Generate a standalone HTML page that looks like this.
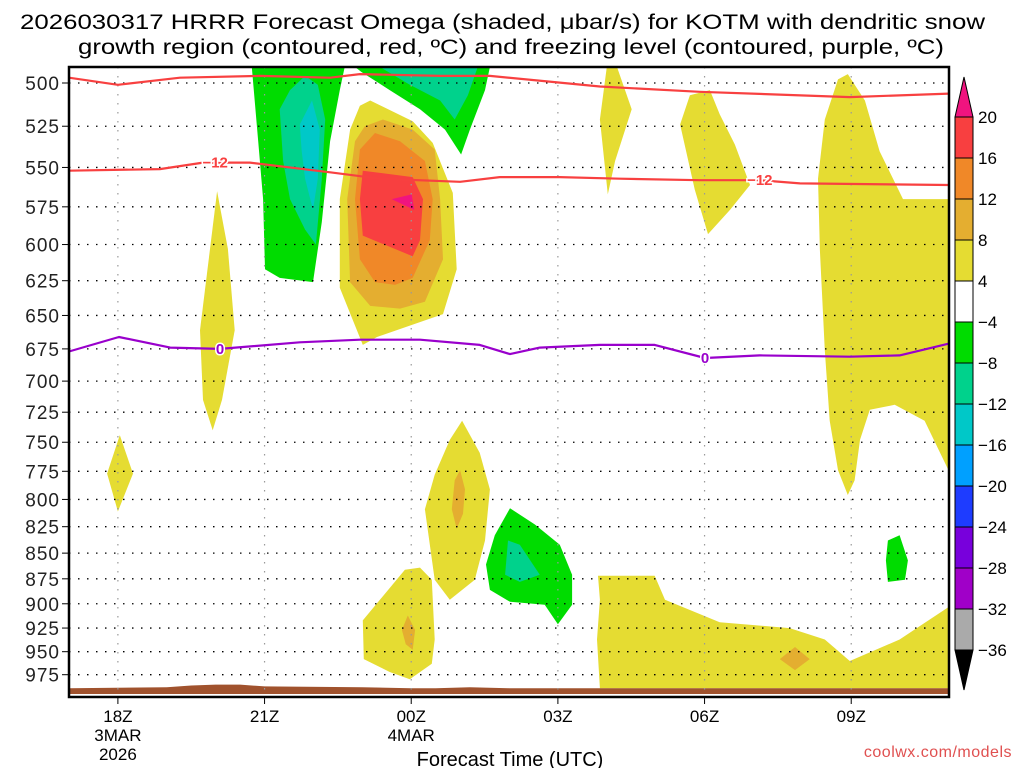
<!DOCTYPE html>
<html><head><meta charset="utf-8"><style>
html,body{margin:0;padding:0;background:#fff;}
svg{display:block;font-family:"Liberation Sans",sans-serif;}
</style></head><body>
<svg id="chart" width="1024" height="768" viewBox="0 0 1024 768" xmlns="http://www.w3.org/2000/svg">
<text x="20" y="29" font-size="21" textLength="965" lengthAdjust="spacingAndGlyphs" fill="#000">2026030317 HRRR Forecast Omega (shaded, μbar/s) for KOTM with dendritic snow</text>
<text x="78" y="54" font-size="21" textLength="866" lengthAdjust="spacingAndGlyphs" fill="#000">growth region (contoured, red, ºC) and freezing level (contoured, purple, ºC)</text>
<g id="shading"></g>
<g id="ground"></g>
<g id="grid"></g>
<g id="lines"></g>
<rect x="69" y="67" width="880" height="630" fill="none" stroke="#000" stroke-width="2.5"/>
<g id="yaxis"></g>
<g id="xaxis"></g>
<text x="510" y="766" font-size="20" text-anchor="middle">Forecast Time (UTC)</text>
<text x="1012" y="757" font-size="16" text-anchor="end" fill="#e05050" letter-spacing="0.5">coolwx.com/models</text>
<g id="cbar"></g>
</svg>
<script>
const NS="http://www.w3.org/2000/svg";
const pLevels=[500,525,550,575,600,625,650,675,700,725,750,775,800,825,850,875,900,925,950,975];
const xTickHours=[18,21,24,27,30,33];
const xTickLabels=["18Z","21Z","00Z","03Z","06Z","09Z"];
const xTickDates=[["3MAR","2026"],[],["4MAR"],[],[],[]];
const cbarLevels=["20","16","12","8","4","−4","−8","−12","−16","−20","−24","−28","−32","−36"];
const cbarColors=["#f83f40","#f08828","#e4ae30","#e5dc32","#ffffff","#00dc00","#00d28c","#00c8c8","#00a0ff","#1e3cff","#7800dc","#a000c8","#aaaaaa"];
const C={y:"#e5dc32",g:"#e4ae30",o:"#f08828",r:"#f83f40",m:"#f0147f",gr:"#00dc00",t:"#00d28c",c:"#00c8c8"};
const regYellowBR=[[27.82,872],[28.98,872],[29.19,896],[30.31,919],[31.74,925],[32.46,937],[32.97,960],[33.99,937],[35,903],[35,990],[27.86,990],[27.8,937],[27.86,896]];
const regGoldBR=[[31.85,945],[32.15,958],[31.85,970],[31.54,958]];
const regYellow00=[[23.01,917],[23.87,866],[24.18,864],[24.42,876],[24.48,937],[24.42,963],[23.97,980],[23.56,972],[23.03,958]];
const regGold00=[[23.93,912],[24.08,927],[24.03,948],[23.89,942],[23.81,927]];
const regYellow01=[[25.04,732],[25.4,759],[25.61,791],[25.51,838],[25.3,876],[24.79,896],[24.48,876],[24.28,809],[24.48,778],[24.79,748]];
const regGold01=[[25,774],[25.1,791],[25.06,813],[24.93,827],[24.83,809],[24.89,783]];
const regGreen02=[[26.02,808],[26.53,823],[27.04,842],[27.29,871],[27.29,901],[27,921],[26.73,901],[26.02,898],[25.61,886],[25.53,861],[25.71,833]];
const regTeal02=[[25.98,838],[26.22,842],[26.63,871],[26.22,878],[25.92,871]];
const regYellowDiamond=[[18.04,744],[18.31,777],[18.0,811],[17.78,777]];
const regYellowSpike=[[20.03,565],[20.25,603],[20.39,661],[20.13,715],[19.94,740],[19.74,715],[19.68,661]];
const regYellow04=[[28.0,491],[28.21,491],[28.51,515],[28.17,546],[28.02,567],[27.86,521]];
const regYellow06=[[29.7,507],[30.11,504],[30.31,518],[30.62,536],[30.93,561],[30.52,577],[30.07,593],[29.8,564],[29.5,524]];
const regYellowRight=[[32.73,498],[32.93,495],[33.28,510],[33.58,540],[34.06,570],[35,570],[35,775],[34.5,732],[33.89,719],[33.38,723],[33.18,748],[33.07,783],[32.93,796],[32.73,774],[32.56,732],[32.46,676],[32.36,604],[32.32,557],[32.46,521]];
const regGreenRight=[[33.75,838],[33.99,833],[34.16,857],[34.1,876],[33.75,878],[33.71,857]];
const regGreen1=[[20.74,491],[20.87,534],[20.97,570],[21.01,617],[21.31,623],[21.99,626],[22.17,585],[22.34,534],[22.54,504],[22.64,491]];
const regTeal1=[[21.31,515],[21.52,504],[21.83,496],[22.09,501],[22.24,521],[22.17,557],[22.05,600],[21.83,590],[21.52,570],[21.38,546]];
const regCyan1=[[21.72,524],[21.97,510],[22.13,527],[22.09,557],[21.99,577],[21.83,557],[21.76,540]];
const regGreen2=[[22.85,491],[22.99,494],[23.56,504],[24.18,515],[24.69,527],[25.02,542],[25.2,527],[25.51,504],[25.61,491]];
const regTeal2=[[23.36,491],[23.97,501],[24.59,510],[24.89,521],[25.16,507],[25.36,491]];
const regWarmY=[[23.16,510],[24.03,522],[24.44,535],[24.85,566],[24.93,617],[24.65,649],[23.3,666],[23.01,672],[22.54,630],[22.54,570],[22.75,527],[22.95,513]];
const regWarmG=[[22.85,534],[23.05,525],[23.42,521],[24.03,527],[24.48,539],[24.59,570],[24.65,610],[24.28,640],[23.77,645],[23.16,643],[22.75,626],[22.69,570]];
const regWarmO=[[22.95,539],[23.26,529],[23.77,534],[24.28,546],[24.44,570],[24.38,597],[24.03,623],[23.67,628],[23.26,626],[22.95,610],[22.85,570]];
const regWarmR=[[23.01,552],[24.03,556],[24.24,570],[24.18,597],[24.03,608],[23.01,594],[22.95,570]];
const regWarmM=[[23.6,570],[24.01,567],[24.06,577]];
const lineRedTop=[[17,497],[18,501],[19.27,497],[20.91,496],[22.34,497],[22.95,495],[24.59,496],[25.61,496],[27.86,502],[29.9,505],[32.97,508],[35,506]];
const lineRedM12=[[17,552],[18.86,551],[19.74,547],[20.7,547],[22.34,553],[23.36,557],[25,559],[25.81,556],[27.04,556],[28.27,557],[29.9,558],[31.13,558],[31.95,560],[35,561]];
const linePurple0=[[17,677],[18.02,666],[19.07,674],[20.09,675],[21.72,670],[22.95,668],[24.18,668],[25.4,672],[26.02,679],[26.63,674],[27.86,672],[28.98,672],[30.01,682],[31.13,680],[32.97,681],[33.99,680],[35,671]];
const groundHours=[17,19,19.5,20,20.5,21,23,24,24.5,25.2,26,27,35];
const groundP=[990,989,987,986,986,988,989,990,990,989,990,990,990];

const X0=69,X1=949,H0=17,H1=35,Y500=83,PPL=886;
function xS(h){return X0+(h-H0)*(X1-X0)/(H1-H0);}
function yS(p){return Math.min(697,Math.max(67,Y500+PPL*Math.log(p/500)));}
function mk(tag,attrs,parent){const e=document.createElementNS(NS,tag);for(const k in attrs)e.setAttribute(k,attrs[k]);parent.appendChild(e);return e;}
function pts(a){return a.map(d=>xS(d[0]).toFixed(1)+","+yS(d[1]).toFixed(1)).join(" ");}

const shading=document.getElementById("shading");
const regions=[["region-yellow-bottom-right",regYellowBR,C.y],["region-gold-bottom-right",regGoldBR,C.g],
["region-yellow-00z-low",regYellow00,C.y],["region-gold-00z-low",regGold00,C.g],
["region-yellow-01z-mid",regYellow01,C.y],["region-gold-01z-mid",regGold01,C.g],
["region-green-02z",regGreen02,C.gr],["region-teal-02z",regTeal02,C.t],
["region-yellow-diamond-18z",regYellowDiamond,C.y],["region-yellow-spike-20z",regYellowSpike,C.y],
["region-yellow-04z-top",regYellow04,C.y],["region-yellow-06z-top",regYellow06,C.y],
["region-yellow-right",regYellowRight,C.y],["region-green-right",regGreenRight,C.gr],
["region-green-22z",regGreen1,C.gr],["region-teal-22z",regTeal1,C.t],["region-cyan-22z",regCyan1,C.c],
["region-green-00z-top",regGreen2,C.gr],["region-teal-00z-top",regTeal2,C.t],
["region-warm-yellow",regWarmY,C.y],["region-warm-gold",regWarmG,C.g],["region-warm-orange",regWarmO,C.o],
["region-warm-red",regWarmR,C.r],["region-warm-magenta",regWarmM,C.m]];
regions.forEach(r=>{
  const e=mk("polygon",{points:pts(r[1]),fill:r[2],"stroke-linejoin":"round"},shading);
  
  
});

const ground=document.getElementById("ground");
const gp=groundHours.map((h,i)=>[h,groundP[i]]);
const gpts=gp.map(d=>xS(d[0]).toFixed(1)+","+yS(d[1]).toFixed(1)).join(" ")+` ${X1},694 ${X0},694`;
const gEl=mk("polygon",{points:gpts,fill:"#a0522d"},ground);



const grid=document.getElementById("grid");
pLevels.forEach(p=>{
  const l=mk("line",{x1:X0,x2:X1,y1:yS(p),y2:yS(p),stroke:"#000","stroke-width":1.3,"stroke-dasharray":"1.5 7.5"},grid);
  
  
});
xTickHours.forEach(h=>{
  const l=mk("line",{x1:xS(h),x2:xS(h),y1:67,y2:697,stroke:"#999","stroke-width":1.2,"stroke-dasharray":"1.5 7.5"},grid);
  
  
});

const lines=document.getElementById("lines");
function drawLine(a,col,name){
  const e=mk("polyline",{points:pts(a),fill:"none",stroke:col,"stroke-width":2.2,"stroke-linejoin":"round"},lines);
  
  
}
drawLine(lineRedTop,"#f84040","dgz-upper-contour");
drawLine(lineRedM12,"#f84040","dgz-minus12-contour");
drawLine(linePurple0,"#9900cc","freezing-level-contour");
function lbl(h,p,t,col,name){
  const x=xS(h),y=yS(p);
  const e=mk("text",{x:x,y:y+5,"font-size":15,"font-weight":"bold","text-anchor":"middle",fill:col,stroke:"#fff","stroke-width":3,"paint-order":"stroke"},lines);
  e.textContent=t;
  
  
}
lbl(19.99,547,"−12","#f84040","dgz-label-1");
lbl(31.13,558,"−12","#f84040","dgz-label-2");
lbl(20.09,675,"0","#9900cc","freezing-label-1");
lbl(30.01,682,"0","#9900cc","freezing-label-2");

const ya=document.getElementById("yaxis");
pLevels.forEach(p=>{
  const t=mk("text",{x:60,y:yS(p)+7,"font-size":19,"text-anchor":"end",fill:"#222","letter-spacing":"1"},ya);
  t.textContent=p;
  
  
  const tk=mk("line",{x1:62,x2:69,y1:yS(p),y2:yS(p),stroke:"#000","stroke-width":1},ya);
  
  
});
const xa=document.getElementById("xaxis");
xTickHours.forEach((h,i)=>{
  const x=xS(h);
  const tk=mk("line",{x1:x,x2:x,y1:697,y2:704,stroke:"#000","stroke-width":1},xa);
  
  
  const t=mk("text",{x:x,y:722,"font-size":17,"text-anchor":"middle"},xa);
  t.textContent=xTickLabels[i];
  
  
  xTickDates[i].forEach((d,j)=>{
    const s=mk("text",{x:x,y:741+j*19,"font-size":17,"text-anchor":"middle"},xa);
    s.textContent=d;
    
    
  });
});

const cb=document.getElementById("cbar");
const CBX=955,CBW=18,CBT=117,CBH=41;
const up=mk("polygon",{points:`${CBX},${CBT} ${CBX+CBW},${CBT} ${CBX+CBW/2},77`,fill:"#f0147f",stroke:"#000","stroke-width":1},cb);


cbarColors.forEach((c,i)=>{
  const r=mk("rect",{x:CBX,y:CBT+i*CBH,width:CBW,height:CBH,fill:c,stroke:"#000","stroke-width":1},cb);
  
  
});
const nb=cbarColors.length;
const dn=mk("polygon",{points:`${CBX},${CBT+nb*CBH} ${CBX+CBW},${CBT+nb*CBH} ${CBX+CBW/2},690`,fill:"#000",stroke:"#000","stroke-width":1},cb);


cbarLevels.forEach((l,i)=>{
  const t=mk("text",{x:978,y:CBT+i*CBH+6,"font-size":17},cb);
  t.textContent=l;
  
  
});
</script>
</body></html>
